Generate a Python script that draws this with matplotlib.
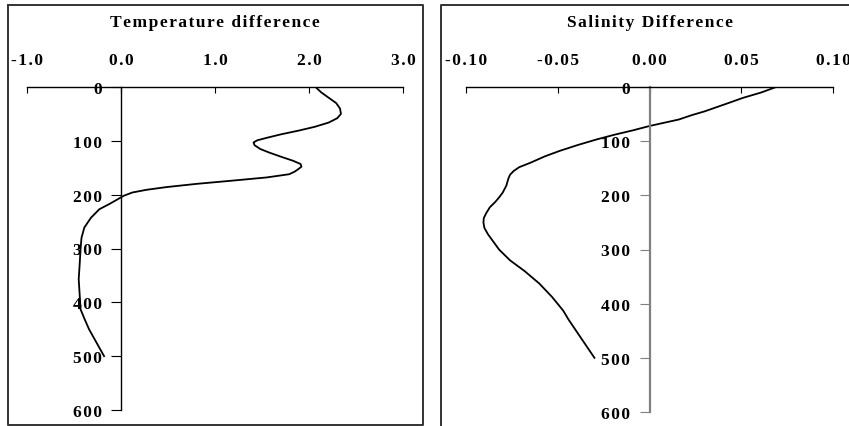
import matplotlib.pyplot as plt
from matplotlib.lines import Line2D

# temperature difference profile (deg C) vs depth (m)
temp_depth = [0, 10, 20, 30, 40, 50, 58, 66, 74, 81, 88, 94, 99, 103, 108, 115, 122,
              130, 137, 143, 148, 152, 157, 162, 168, 174, 180, 186, 191, 196, 202,
              208, 217, 227, 243, 261, 280, 300, 330, 357, 385, 413, 430, 450, 475, 500]
temp_diff = [2.07, 2.13, 2.21, 2.29, 2.33, 2.34, 2.30, 2.21, 2.06, 1.89, 1.70, 1.56,
             1.45, 1.41, 1.42, 1.48, 1.58, 1.71, 1.83, 1.91, 1.92, 1.89, 1.85, 1.79,
             1.55, 1.18, 0.80, 0.48, 0.27, 0.12, 0.03, -0.03, -0.12, -0.23, -0.32,
             -0.39, -0.42, -0.43, -0.44, -0.45, -0.44, -0.43, -0.39, -0.34, -0.26, -0.18]

# salinity difference profile vs depth (m)
sal_depth = [0, 10, 20, 32, 45, 52, 60, 66, 72, 80, 88, 97, 107, 118, 128, 140, 148,
             155, 162, 170, 182, 195, 204, 212, 222, 233, 242, 250, 260, 272, 286,
             300, 320, 340, 363, 388, 413, 430, 450, 475, 500]
sal_diff = [0.069, 0.061, 0.051, 0.041, 0.030, 0.023, 0.016, 0.008, 0.0, -0.009,
            -0.019, -0.029, -0.039, -0.049, -0.057, -0.065, -0.071, -0.074, -0.076,
            -0.077, -0.078, -0.080, -0.082, -0.084, -0.087, -0.089, -0.0903, -0.0905,
            -0.090, -0.088, -0.085, -0.082, -0.076, -0.068, -0.060, -0.053, -0.047,
            -0.044, -0.040, -0.035, -0.030]

temp_ticks = [-1.0, 0.0, 1.0, 2.0, 3.0]
sal_ticks = [-0.10, -0.05, 0.00, 0.05, 0.10]
depth_ticks = [0, 100, 200, 300, 400, 500, 600]

W, H = 849, 427
plt.rcParams['font.family'] = ['Liberation Serif', 'DejaVu Serif']
plt.rcParams['font.weight'] = 'bold'
plt.rcParams['font.size'] = 12.5

fig = plt.figure(figsize=(W / 100, H / 100), dpi=100)


def spaced(s):
    return '\u200a'.join(s)


def px_axes(x0, x1, y0, y1):
    return fig.add_axes([x0 / W, 1 - y1 / H, (x1 - x0) / W, (y1 - y0) / H])


def fig_line(xs, ys, color='#333333', lw=1.4):
    fig.add_artist(Line2D([x / W for x in xs], [1 - y / H for y in ys],
                          transform=fig.transFigure, color=color, lw=lw))


def profile(ax, x, y, xticks, fmt, xlim, vcolor):
    ax.plot(x, y, color='black', lw=1.3)
    ax.set_xlim(*xlim)
    ax.set_ylim(600, 0)
    for s in ('right', 'bottom'):
        ax.spines[s].set_visible(False)
    ax.spines['top'].set_color('black')
    ax.spines['top'].set_linewidth(1.0)
    ax.spines['left'].set_position(('data', 0))
    ax.spines['left'].set_color(vcolor)
    ax.spines['left'].set_linewidth(1.0 if vcolor == 'black' else 1.6)
    ax.xaxis.tick_top()
    ax.set_xticks(xticks)
    ax.set_xticklabels([spaced(fmt.format(v)) for v in xticks])
    ax.tick_params(axis='x', direction='in', length=4, pad=14, colors='black')
    ax.set_yticks(depth_ticks)
    ax.set_yticklabels([spaced(str(d)) for d in depth_ticks])
    ax.tick_params(axis='y', direction='out', length=7, pad=7, color=vcolor,
                   labelcolor='black')
    ax.patch.set_visible(False)


# left panel: temperature
ax1 = px_axes(27, 403, 88, 411)
profile(ax1, temp_diff, temp_depth, temp_ticks, '{:.1f}', (-1.0, 3.0), 'black')
fig.text(215 / W, 1 - 23 / H, spaced('Temperature difference'), ha='center',
         va='center')
fig_line([8, 423, 423, 8, 8], [6, 6, 426, 426, 6])

# right panel: salinity
ax2 = px_axes(466, 833, 88, 413)
profile(ax2, sal_diff, sal_depth, sal_ticks, '{:.2f}', (-0.10, 0.10), '#808080')
fig.text(650 / W, 1 - 23 / H, spaced('Salinity Difference'), ha='center',
         va='center')
fig_line([441, 441, 849], [427, 6, 6])

fig.savefig('out.png', dpi=100)
